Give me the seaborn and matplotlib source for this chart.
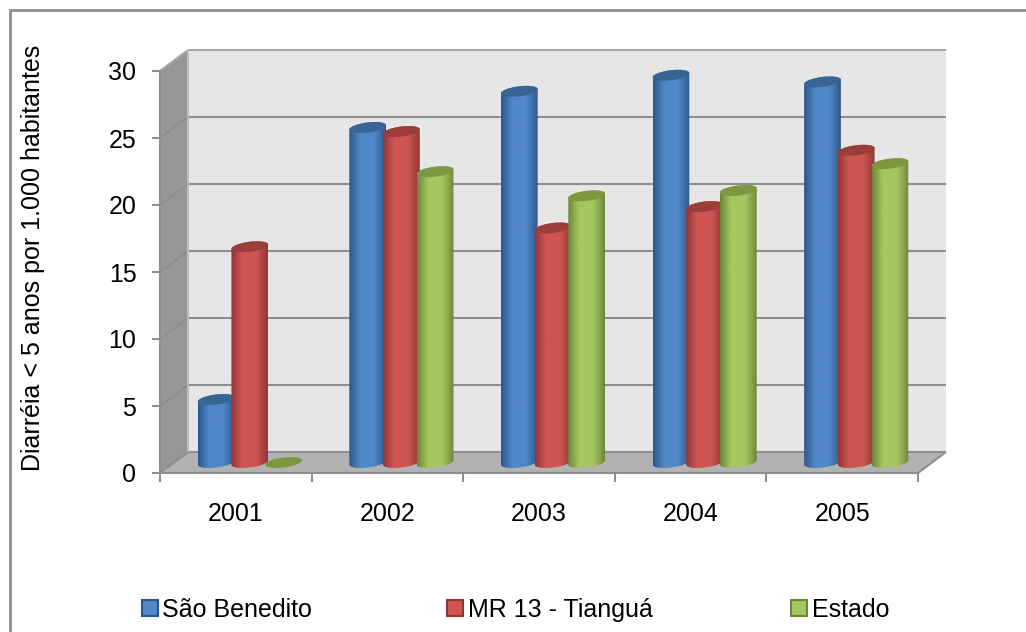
import numpy as np
import pandas as pd
import seaborn as sns
import matplotlib
matplotlib.use("Agg")
import matplotlib.pyplot as plt
from matplotlib.lines import Line2D
from matplotlib.patches import Patch, PathPatch, Polygon
from matplotlib.path import Path
from matplotlib.colors import to_rgb

years = ["2001", "2002", "2003", "2004", "2005"]
sao_benedito = [4.7, 25.0, 27.7, 28.9, 28.4]
mr13_tiangua = [16.1, 24.7, 17.5, 19.1, 23.3]
estado = [0.0, 21.7, 19.9, 20.3, 22.3]
series_names = ["São Benedito", "MR 13 - Tianguá", "Estado"]

# light, dark and cap tone of each cylinder series
light = ["#5087C8", "#CF5553", "#A5C65F"]
dark = ["#2B5687", "#8C3634", "#6B853A"]
cap = ["#396594", "#9B3D3A", "#7C9740"]

W, H = 1026, 632
GRID = "#8E8E8E"
TEXT_PT = 18

sns.set_theme(style="white")
plt.rcParams["font.family"] = ["Liberation Sans", "DejaVu Sans"]

df = pd.DataFrame({
    "ano": years * 3,
    "valor": sao_benedito + mr13_tiangua + estado,
    "serie": [n for n in series_names for _ in years],
})

fig = plt.figure(figsize=(W / 100, H / 100), dpi=100, facecolor="white")
ax = fig.add_axes([160 / W, 1 - 473 / H, 758 / W, 402 / H])
ax.patch.set_visible(False)

sns.barplot(data=df, x="ano", y="valor", hue="serie", hue_order=series_names,
            palette=light, width=0.667, gap=0, legend=False, ax=ax)
ax.set_xlim(-0.5, 4.5)
ax.set_ylim(0, 30)

# Oblique depth axis expressed in data units
DX, DY = 28 * 5 / 758, 21 * 30 / 402


def project(x, y, d):
    return x + d * DX, y + d * DY


def poly(points, color):
    ax.add_patch(Polygon([project(*p) for p in points], closed=True, fc=color, ec="none",
                         zorder=0.5, clip_on=False))


def rule(points, color=GRID, lw=1.5):
    xs, ys = zip(*[project(*p) for p in points])
    ax.plot(xs, ys, color=color, lw=lw, zorder=1, clip_on=False, solid_capstyle="butt")


x0, x1 = -0.5, 4.5
poly([(x0, 0, 1), (x1, 0, 1), (x1, 30, 1), (x0, 30, 1)], "#E6E6E6")
poly([(x0, 0, 0), (x0, 0, 1), (x0, 30, 1), (x0, 30, 0)], "#979797")
poly([(x0, 0, 0), (x1, 0, 0), (x1, 0, 1), (x0, 0, 1)], "#B2B2B2")

value_ticks = list(range(0, 31, 5))
for v in value_ticks:
    c = "#A8A8A8" if v == 30 else GRID
    rule([(x0, v, 1), (x1, v, 1)], c)
    rule([(x0, v, 0), (x0, v, 1)], c)
rule([(x1, 0, 0), (x1, 0, 1)], GRID)
rule([(x0, 0, 1), (x0, 30, 1)], "#BDBDBD")

# Horizontal shading across a cylinder body
stops = [0.0, 0.10, 0.30, 0.68, 0.90, 1.0]
weights = [0.0, 0.35, 1.0, 1.0, 0.35, 0.0]


def shade(light_c, dark_c):
    t = np.linspace(0, 1, 256)
    w = np.interp(t, stops, weights)[None, :, None]
    lo, hi = np.array(to_rgb(dark_c)), np.array(to_rgb(light_c))
    return lo + (hi - lo) * w


RD = 0.26
t_arc = np.linspace(0, np.pi, 60)

for i, container in enumerate(ax.containers):
    for bar in container:
        a = bar.get_width() / 2
        cx = bar.get_x() + a + 0.5 * DX
        base = 0.5 * DY
        top = bar.get_height() + 0.5 * DY
        bar.set_visible(False)
        ex, ey = RD * DX, RD * DY
        t0 = np.arctan2(ex, a)
        half = np.hypot(a, ex)

        def ring(t, level):
            return np.column_stack([cx + a * np.cos(t) + ex * np.sin(t), level + ey * np.sin(t)])

        z = 2 + i
        if bar.get_height() > 0:
            lower = ring(t0 + np.pi + t_arc, base)
            upper = ring(t0 + t_arc, top)
            outline = np.vstack([lower, upper, lower[:1]])
            body = PathPatch(Path(outline), transform=ax.transData, fc="none", ec="none")
            ax.add_patch(body)
            body.set_clip_on(False)
            im = ax.imshow(shade(light[i], dark[i]), extent=(cx - half, cx + half, base - ey, top + ey),
                           aspect="auto", origin="lower", interpolation="bilinear", zorder=z)
            im.set_clip_box(fig.bbox)
            im.set_clip_path(body)
        cap_pts = ring(np.linspace(0, 2 * np.pi, 100), top)
        ax.add_patch(Polygon(cap_pts, closed=True, fc=cap[i], ec="none", zorder=z + 0.1, clip_on=False))

ax.set_xlim(-0.5, 4.5)
ax.set_ylim(0, 30)

# Axes, ticks and labels
for s in ("top", "right"):
    ax.spines[s].set_visible(False)
for s in ("left", "bottom"):
    ax.spines[s].set_color(GRID)
    ax.spines[s].set_linewidth(1.5)

ax.set_yticks(value_ticks)
ax.set_xticks(np.arange(-0.5, 5, 1), labels=[""] * 6)
ax.set_xticks(np.arange(5), labels=years, minor=True)
ax.tick_params(axis="y", length=6, width=1.5, color=GRID, pad=11, labelsize=TEXT_PT, labelcolor="black", left=True)
ax.tick_params(axis="x", which="major", length=6.5, width=1.5, color=GRID, bottom=True)
ax.tick_params(axis="x", which="minor", length=0, pad=21, labelsize=TEXT_PT, labelcolor="black")
ax.set_xlabel("")
ax.set_ylabel("Diarréia < 5 anos por 1.000 habitantes", fontsize=TEXT_PT, color="black")
ax.yaxis.set_label_coords((45 - 160) / 758, (473 - 258) / 402)

# One legend entry per slot along the bottom of the chart
legend_x = [142, 447, 791]
for name, fc, ec, lx in zip(series_names, light, dark, legend_x):
    h = Patch(facecolor=fc, edgecolor=ec, linewidth=1.5)
    fig.legend(handles=[h], labels=[name], loc="center left", bbox_to_anchor=(lx / W, 1 - 610 / H),
               frameon=False, borderpad=0, borderaxespad=0, fontsize=TEXT_PT,
               handlelength=0.62, handleheight=0.62, handletextpad=0.2, labelcolor="black")

# Chart frame: only the top and left edges fall inside the canvas
fig.add_artist(Line2D([10 / W, 10 / W, 1], [0, 1 - 10 / H, 1 - 10 / H], color="#8E8E8E", lw=2,
                      transform=fig.transFigure, solid_joinstyle="miter"))

fig.savefig("out.png", dpi=100, facecolor="white")
